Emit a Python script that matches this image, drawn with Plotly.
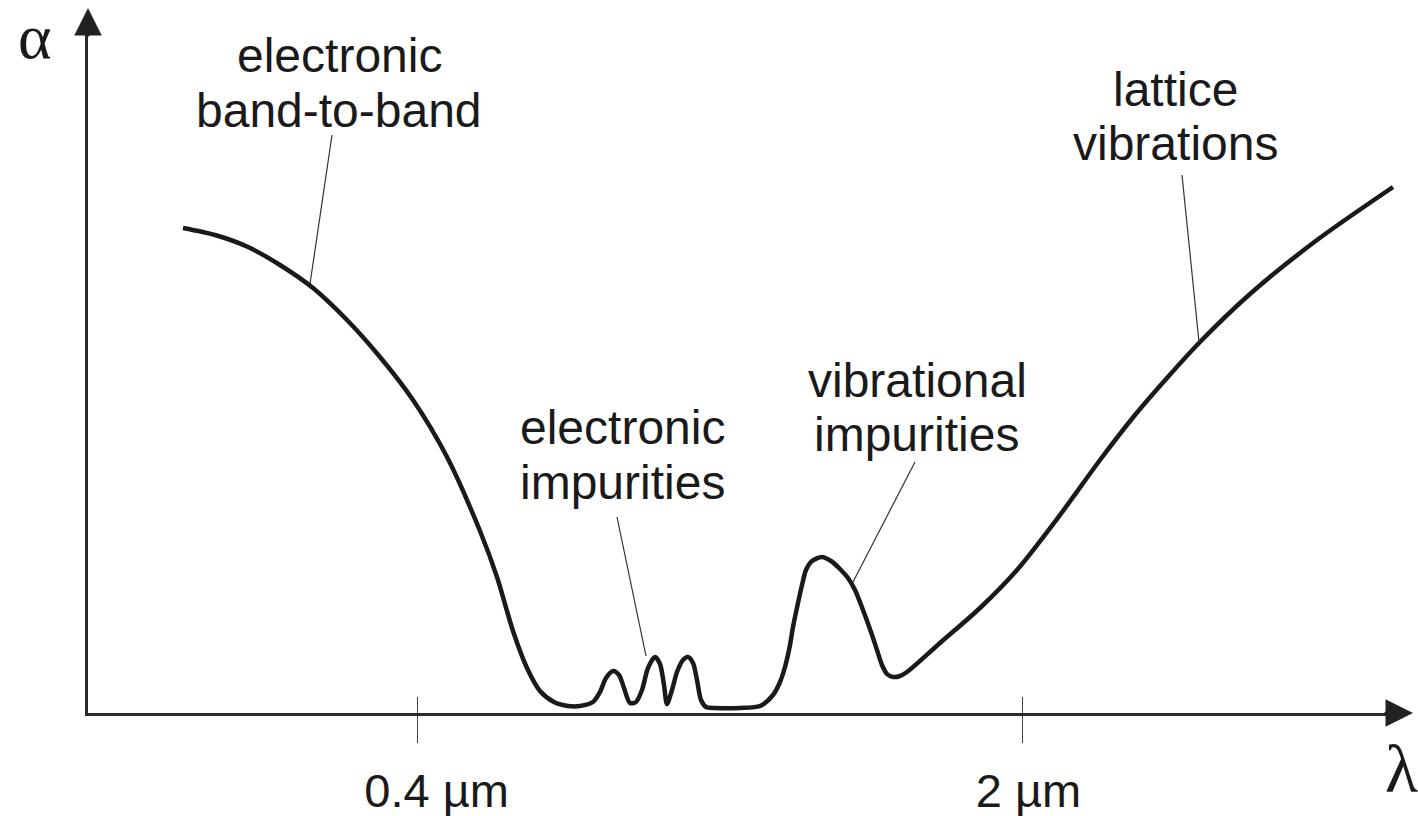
import plotly.graph_objects as go

W, H = 1418, 816

# Schematic absorption spectrum (arbitrary units)
wavelength = [95, 127, 160, 192, 225, 259, 292, 325, 359, 392,
              409, 425, 439, 452, 466, 480, 492, 505, 512, 518,
              525, 531, 536, 542, 548, 554, 560, 567, 572, 576,
              579, 584, 589, 595, 600, 605, 609, 613, 618, 627,
              652, 672, 685, 692, 697, 702, 705, 710, 714, 718,
              724, 734, 743, 752, 760, 767, 775, 783, 789, 794,
              799, 805, 812, 819, 852, 892, 929, 972, 1012, 1047,
              1079, 1111, 1162, 1229, 1305]
alpha = [485, 478, 466, 448, 425, 393, 356, 313, 256, 182,
         136, 82, 45, 22, 11, 7, 7, 11, 21, 35,
         42, 38, 25, 10, 11, 23, 45, 56, 49, 28,
         9, 23, 41, 53, 56, 50, 33, 13, 6, 5,
         5, 7, 18, 31, 46, 68, 86, 110, 128, 143,
         152, 156, 152, 144, 135, 123, 103, 81, 63, 48,
         39, 36, 37, 41, 70, 105, 143, 198, 253, 298,
         335, 370, 419, 473, 526]

tick_positions = [329, 934]
tick_labels = ["\u00a0\u00a0\u00a00.4 µm", "\u00a02 µm"]

# label lines: text, x, y (centre)
label_texts = ["electronic", "band-to-band", "electronic", "impurities",
               "vibrational", "impurities", "lattice", "vibrations"]
label_x = [251, 250.5, 534, 534, 829, 828.5, 1087.5, 1087.5]
label_y = [657.5, 602.5, 286, 231, 333, 279, 623, 569]

# leader lines: from label to curve
leader_x0 = [244, 529, 827, 1094]
leader_y0 = [578, 196, 251, 538]
leader_x1 = [222, 558, 765, 1111]
leader_y1 = [429, 57, 131, 371]

fig = go.Figure()

fig.add_trace(go.Scatter(
    x=wavelength, y=alpha, mode="lines",
    line=dict(color="#1a1a1a", width=4.5, shape="spline", smoothing=0.8),
    cliponaxis=False, hoverinfo="skip", showlegend=False))

for x0, y0, x1, y1 in zip(leader_x0, leader_y0, leader_x1, leader_y1):
    fig.add_trace(go.Scatter(
        x=[x0, x1], y=[y0, y1], mode="lines",
        line=dict(color="#333333", width=1.2),
        hoverinfo="skip", showlegend=False))

# invisible trace to instantiate the overlay axis for inner tick marks
fig.add_trace(go.Scatter(x=[tick_positions[0]], y=[0], xaxis="x2", mode="markers",
                         marker=dict(opacity=0), hoverinfo="skip", showlegend=False))

annotations = []
for t, x, y in zip(label_texts, label_x, label_y):
    annotations.append(dict(
        x=x, y=y, xref="x", yref="y", text=t, showarrow=False,
        xanchor="center", yanchor="middle",
        font=dict(family="Liberation Sans, Arial, sans-serif", size=48, color="#1a1a1a")))

# axis arrowheads
annotations.append(dict(x=1413 / W, y=(H - 713) / H, xref="paper", yref="paper",
                        ax=-30, ay=0, text="", showarrow=True, arrowhead=2,
                        arrowsize=2.2, arrowwidth=2.5, arrowcolor="#222222"))
annotations.append(dict(x=88 / W, y=(H - 8) / H, xref="paper", yref="paper",
                        ax=0, ay=30, text="", showarrow=True, arrowhead=2,
                        arrowsize=2.2, arrowwidth=2.5, arrowcolor="#222222"))
# axis symbols
annotations.append(dict(x=35 / W, y=1, xref="paper", yref="paper",
                        text="α", showarrow=False, xanchor="center", yanchor="top",
                        borderpad=0,
                        font=dict(family="Liberation Serif, Times New Roman, serif",
                                  size=64, color="#1a1a1a")))
annotations.append(dict(x=1401 / W, y=(H - 769) / H, xref="paper", yref="paper",
                        text="λ", showarrow=False, xanchor="center", yanchor="middle",
                        font=dict(family="Liberation Serif, Times New Roman, serif",
                                  size=68, color="#1a1a1a")))

fig.update_layout(
    width=W, height=H,
    margin=dict(l=0, r=0, t=0, b=0, autoexpand=False),
    paper_bgcolor="white", plot_bgcolor="white",
    showlegend=False,
    annotations=annotations,
    xaxis=dict(domain=[88 / W, 1394 / W], range=[0, 1306], automargin=False,
               showgrid=False, zeroline=False,
               showline=True, linecolor="#2a2a2a", linewidth=2.5,
               tickmode="array", tickvals=tick_positions, ticktext=tick_labels,
               ticks="outside", ticklen=27, tickwidth=1.3, tickcolor="#444444",
               tickfont=dict(family="Liberation Sans, Arial, sans-serif", size=47,
                             color="#1a1a1a"),
               ticklabelstandoff=8),
    xaxis2=dict(overlaying="x", matches="x", anchor="y", side="bottom",
                automargin=False,
                showgrid=False, zeroline=False, showline=False,
                tickmode="array", tickvals=tick_positions,
                ticks="inside", ticklen=16, tickwidth=1.3, tickcolor="#444444",
                showticklabels=False),
    yaxis=dict(domain=[103 / H, 784 / H], range=[0, 681], automargin=False,
               showgrid=False, zeroline=False,
               showline=True, linecolor="#2a2a2a", linewidth=2.5,
               showticklabels=False, ticks=""),
)

fig.write_html(
    "out.html",
    config={"displayModeBar": False},
    post_script="document.body.style.margin='0';document.body.style.padding='0';"
                "document.body.style.overflow='hidden';",
)
